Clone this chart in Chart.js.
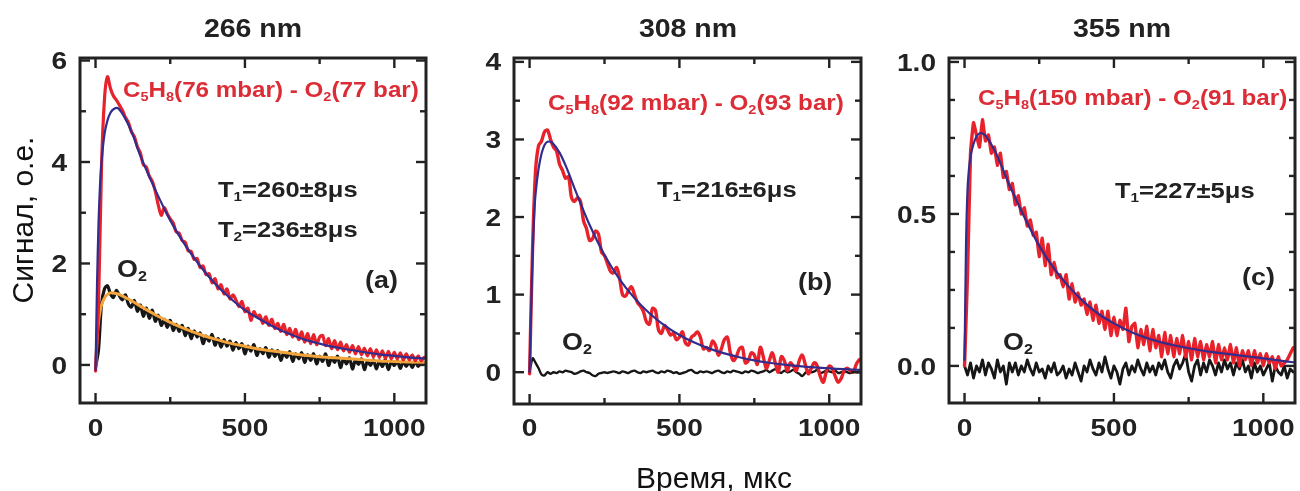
<!DOCTYPE html>
<html>
<head>
<meta charset="utf-8">
<title>Сигнал</title>
<script src="https://cdn.jsdelivr.net/npm/chart.js@4.4.1/dist/chart.umd.min.js"></script>
<style>
  body { margin: 0; background: #fff; }
  #wrap { position: relative; width: 1300px; height: 491px; overflow: hidden; }
  #wrap canvas { position: absolute; top: 0; }
</style>
</head>
<body>
<div id="wrap">
  <canvas id="chartA" width="440" height="491" style="left:0px"></canvas>
  <canvas id="chartB" width="440" height="491" style="left:440px"></canvas>
  <canvas id="chartC" width="420" height="491" style="left:880px"></canvas>
</div>
<script>
// time grid of the measured traces, us
const TIME = [
  0, 10, 20, 30, 40, 50, 60, 70, 80, 90,
  100, 110, 120, 130, 140, 150, 160, 170, 180, 190,
  200, 210, 220, 230, 240, 250, 260, 270, 280, 290,
  300, 310, 320, 330, 340, 350, 360, 370, 380, 390,
  400, 410, 420, 430, 440, 450, 460, 470, 480, 490,
  500, 510, 520, 530, 540, 550, 560, 570, 580, 590,
  600, 610, 620, 630, 640, 650, 660, 670, 680, 690,
  700, 710, 720, 730, 740, 750, 760, 770, 780, 790,
  800, 810, 820, 830, 840, 850, 860, 870, 880, 890,
  900, 910, 920, 930, 940, 950, 960, 970, 980, 990,
  1000, 1010, 1020, 1030, 1040, 1050, 1060, 1070, 1080, 1090,
  1100
];

// time grid of the fitted curves, us
const FIT_TIME = [0, 5, 10, 15, 20, 30, 40, 50, 60, 75, 100, 125, 150, 200, 250, 300, 350,
  400, 450, 500, 550, 600, 650, 700, 750, 800, 850, 900, 950, 1000, 1050, 1100];

// 266 nm
const redA = [
  -0.12, 1.2, 3.9, 5.25, 5.68, 5.45, 5.3, 5.22, 5.12, 5.02,
  4.88, 4.78, 4.6, 4.5, 4.3, 4.18, 3.95, 3.9, 3.72, 3.62,
  3.42, 3.15, 2.95, 3.1, 2.98, 2.88, 2.8, 2.62, 2.6, 2.45,
  2.42, 2.25, 2.24, 2.08, 2.1, 1.92, 1.95, 1.78, 1.8, 1.62,
  1.7, 1.5, 1.58, 1.4, 1.5, 1.3, 1.38, 1.28, 1.15, 1.25,
  1.05, 1.12, 0.88, 1.05, 0.95, 0.98, 0.82, 0.95, 0.78, 0.9,
  0.72, 0.82, 0.66, 0.8, 0.6, 0.72, 0.55, 0.7, 0.5, 0.65,
  0.45, 0.62, 0.42, 0.6, 0.4, 0.55, 0.58, 0.38, 0.52, 0.32,
  0.48, 0.3, 0.45, 0.28, 0.4, 0.25, 0.38, 0.22, 0.36, 0.2,
  0.33, 0.18, 0.32, 0.16, 0.3, 0.15, 0.28, 0.13, 0.27, 0.12,
  0.25, 0.12, 0.24, 0.1, 0.22, 0.1, 0.2, 0.08, 0.18, 0.08,
  0.15
];
const blackA = [
  -0.05, 0.3, 1.2, 1.5, 1.56, 1.4, 1.33, 1.47, 1.36, 1.28,
  1.38, 1.2, 1.14, 1.27, 1.06, 1.18, 0.96, 1.12, 0.92, 1.08,
  0.86, 0.98, 0.78, 0.9, 0.74, 0.88, 0.68, 0.8, 0.66, 0.78,
  0.58, 0.72, 0.52, 0.67, 0.55, 0.63, 0.42, 0.57, 0.47, 0.6,
  0.39, 0.52, 0.35, 0.5, 0.37, 0.47, 0.29, 0.44, 0.32, 0.42,
  0.22, 0.37, 0.27, 0.4, 0.19, 0.32, 0.22, 0.34, 0.15, 0.3,
  0.17, 0.28, 0.09, 0.24, 0.15, 0.26, 0.07, 0.22, 0.12, 0.24,
  0.05, 0.2, 0.09, 0.22, 0.02, 0.17, 0.07, 0.22, -0.01, 0.14,
  0.05, 0.17, -0.05, 0.12, 0.02, 0.14, -0.08, 0.1, 0.01, 0.12,
  -0.09, 0.07, -0.01, 0.1, -0.08, 0.08, -0.03, 0.1, -0.09, 0.06,
  -0.01, 0.08, -0.07, 0.07, -0.03, 0.06, -0.05, 0.07, -0.03, 0.05,
  0.02
];
const fitA = [-0.1, 1.6, 2.8, 3.55, 4.0, 4.55, 4.82, 4.97, 5.04, 5.06, 4.85, 4.53, 4.12, 3.45, 2.85,
  2.36, 1.95, 1.6, 1.32, 1.08, 0.9, 0.74, 0.61, 0.5, 0.42, 0.35, 0.3, 0.25, 0.21, 0.18, 0.15, 0.13];
const fitO2A = [-0.05, 0.5, 0.85, 1.05, 1.18, 1.32, 1.39, 1.42, 1.42, 1.4, 1.33, 1.25, 1.16, 0.99, 0.84,
  0.71, 0.6, 0.51, 0.43, 0.37, 0.31, 0.27, 0.23, 0.19, 0.16, 0.14, 0.12, 0.1, 0.08, 0.07, 0.06, 0.05];

// 308 nm
const redB = [
  -0.02, 1.6, 2.6, 2.92, 2.98, 3.1, 3.12, 3.0, 2.9, 2.85,
  2.68, 2.6, 2.5, 2.52, 2.25, 2.2, 2.25, 2.2, 1.95, 1.85,
  1.7, 1.72, 1.82, 1.78, 1.55, 1.5, 1.4, 1.3, 1.28, 1.35,
  1.22, 1.0, 0.98, 1.05, 1.1, 1.0, 0.9, 0.85, 0.78, 0.65,
  0.62, 0.82, 0.8, 0.55, 0.5, 0.6, 0.55, 0.48, 0.5, 0.42,
  0.45, 0.52, 0.38, 0.35, 0.45, 0.48, 0.52, 0.45, 0.3, 0.32,
  0.28, 0.4, 0.35, 0.22, 0.3, 0.42, 0.45, 0.25, 0.15, 0.2,
  0.3, 0.32, 0.12, 0.15, 0.25, 0.22, 0.1, 0.32, 0.2, 0.05,
  0.15, 0.25, 0.12, 0.0, 0.2, 0.15, 0.02, 0.12, 0.08, 0.02,
  0.15, 0.22, 0.1, -0.02, 0.05, 0.12, 0.08, -0.05, -0.13, 0.0,
  0.08, 0.05, -0.05, -0.13, -0.08, 0.02, 0.05, 0.02, 0.0, 0.1,
  0.16
];
const blackB = [
  0.0, 0.18, 0.12, 0.05, -0.03, -0.04, 0.0, -0.02, 0.0, -0.01,
  0.01, 0.0, 0.02, 0.01, 0.0, -0.02, -0.01, 0.01, 0.02, 0.0,
  -0.01, -0.04, -0.05, -0.02, -0.01, 0.0, -0.01, 0.0, 0.01, 0.0,
  -0.01, 0.01, 0.0, -0.01, 0.01, 0.02, 0.0, -0.01, 0.01, 0.0,
  0.01, 0.02, 0.0, -0.01, 0.01, 0.0, 0.02, 0.01, -0.01, 0.0,
  -0.02, -0.01, 0.0, 0.02, 0.03, 0.0, -0.01, 0.01, 0.0, 0.01,
  0.0, -0.01, 0.01, 0.02, 0.0, -0.01, 0.01, 0.0, 0.02, 0.01,
  0.0, -0.01, 0.01, 0.0, 0.02, 0.01, -0.01, 0.0, 0.01, 0.03,
  0.0, 0.02, 0.04, 0.01, -0.01, 0.02, 0.0, 0.01, 0.03, 0.0,
  -0.02, -0.05, -0.01, 0.02, 0.0, 0.01, 0.03, -0.01, 0.0, 0.02,
  0.01, 0.0, 0.02, -0.01, 0.0, 0.01, 0.0, -0.01, 0.01, 0.0,
  0.0
];
const fitB = [0.0, 0.8, 1.5, 2.0, 2.3, 2.62, 2.82, 2.93, 2.97, 2.96, 2.83, 2.62, 2.37, 1.9, 1.51,
  1.2, 0.955, 0.76, 0.604, 0.48, 0.382, 0.304, 0.242, 0.193, 0.153, 0.122, 0.097, 0.077, 0.061, 0.049, 0.039, 0.031];

// 355 nm
const redC = [
  0.0, 0.3, 0.7, 0.8, 0.76, 0.72, 0.81, 0.74, 0.76, 0.7,
  0.72, 0.66, 0.7, 0.62, 0.64, 0.58, 0.6, 0.53, 0.56, 0.5,
  0.52, 0.46, 0.48, 0.43, 0.44, 0.36, 0.42, 0.33, 0.4, 0.3,
  0.34, 0.29, 0.3, 0.26, 0.3, 0.22, 0.27, 0.21, 0.24, 0.2,
  0.22, 0.17, 0.21, 0.15, 0.2, 0.14, 0.18, 0.12, 0.18, 0.1,
  0.16, 0.1, 0.15, 0.12, 0.19, 0.08, 0.13, 0.14, 0.06, 0.12,
  0.07, 0.13, 0.05, 0.12, 0.06, 0.1, 0.03, 0.11, 0.04, 0.1,
  0.03, 0.09, 0.04, 0.1, 0.03, 0.08, 0.02, 0.09, 0.03, 0.08,
  0.02, 0.07, 0.03, 0.08, 0.01, 0.07, 0.02, 0.06, 0.02, 0.07,
  0.01, 0.06, 0.0, 0.05, 0.02, 0.05, 0.0, 0.05, 0.01, 0.04,
  0.0, 0.04, 0.01, 0.03, -0.01, 0.03, 0.0, 0.01, 0.02, 0.04,
  0.06
];
const blackC = [
  0.0, -0.03, 0.01, -0.04, 0.0, -0.02, 0.02, -0.03, 0.01, -0.01,
  -0.04, 0.02, -0.02, 0.0, -0.06, 0.01, -0.02, 0.01, -0.03, 0.0,
  -0.02, 0.02, -0.01, -0.03, 0.01, -0.02, -0.01, -0.04, 0.0, -0.02,
  0.01, -0.03, -0.02, 0.0, -0.04, -0.01, -0.03, 0.01, -0.02, -0.05,
  0.0, -0.02, 0.02, -0.01, -0.03, 0.01, -0.02, 0.03, -0.01, -0.04,
  0.0, -0.02, -0.06, -0.01, 0.01, -0.03, 0.0, -0.02, 0.02, -0.01,
  -0.03, 0.01, -0.02, 0.0, -0.03, 0.01, -0.01, 0.02, -0.02, -0.04,
  0.0, 0.02, -0.01, 0.01, 0.04, -0.02, -0.05, 0.0, 0.02, -0.03,
  0.01, -0.02, 0.02, 0.0, -0.03, 0.01, -0.02, 0.02, -0.01, 0.01,
  -0.03, 0.01, -0.01, 0.02, -0.02, 0.0, -0.04, 0.01, -0.02, 0.0,
  -0.03, -0.01, 0.01, -0.05, 0.0, -0.02, -0.03, 0.0, -0.04, -0.01,
  -0.02
];
const fitC = [0.02, 0.4, 0.58, 0.65, 0.69, 0.73, 0.755, 0.765, 0.765, 0.752, 0.71, 0.655, 0.595, 0.49, 0.395,
  0.32, 0.26, 0.21, 0.17, 0.14, 0.115, 0.095, 0.08, 0.068, 0.058, 0.05, 0.043, 0.037, 0.031, 0.025, 0.018, 0.012];

// axis ticks
const X_TICKS = [0, 250, 500, 750, 1000];
const X_LABELS = [0, 500, 1000];
const Y_TICKS_A = [0, 1, 2, 3, 4, 5, 6];
const Y_LABELS_A = [0, 2, 4, 6];
const Y_TICKS_B = [0, 0.5, 1, 1.5, 2, 2.5, 3, 3.5, 4];
const Y_LABELS_B = [0, 1, 2, 3, 4];
const Y_TICKS_C = [0, 0.125, 0.25, 0.375, 0.5, 0.625, 0.75, 0.875, 1];
const Y_LABELS_C = [0, 0.5, 1];

const RED = '#e8222b';
const RED_TEXT = '#dc2c35';
const BLUE = '#302d8e';
const BLACK = '#161616';
const ORANGE = '#f3a53c';
const INK = '#222222';
const FONT = '"Liberation Sans", Arial, sans-serif';

function toPoints(xs, ys) {
  return xs.map((x, i) => ({ x: x, y: ys[i] }));
}

// text with one-character subscripts written as _X, stretched horizontally
function drawRich(ctx, str, x, y, size, weight, color, stretch, align) {
  const parts = [];
  for (let i = 0; i < str.length; i++) {
    if (str[i] === '_') { parts.push({ t: str[i + 1], sub: true }); i++; }
    else if (parts.length && !parts[parts.length - 1].sub) parts[parts.length - 1].t += str[i];
    else parts.push({ t: str[i], sub: false });
  }
  let w = 0;
  parts.forEach(p => {
    ctx.font = weight + ' ' + (p.sub ? size * 0.6 : size) + 'px ' + FONT;
    p.w = ctx.measureText(p.t).width;
    w += p.w;
  });
  let x0 = x;
  if (align === 'center') x0 = x - w * stretch / 2;
  if (align === 'right') x0 = x - w * stretch;
  ctx.save();
  ctx.translate(x0, y);
  ctx.scale(stretch, 1);
  ctx.fillStyle = color;
  ctx.textAlign = 'left';
  ctx.textBaseline = 'alphabetic';
  let cx = 0;
  parts.forEach(p => {
    ctx.font = weight + ' ' + (p.sub ? size * 0.6 : size) + 'px ' + FONT;
    ctx.fillText(p.t, cx, p.sub ? size * 0.17 : 0);
    cx += p.w;
  });
  ctx.restore();
}

function tick(ctx, x1, y1, x2, y2) {
  ctx.beginPath();
  ctx.moveTo(x1, y1);
  ctx.lineTo(x2, y2);
  ctx.stroke();
}

// frame, inward ticks, tick labels and annotations of one panel
function makeDecor(p) {
  return {
    id: 'panelDecor',
    afterDraw(chart) {
      const ctx = chart.ctx, a = chart.chartArea;
      const sx = chart.scales.x, sy = chart.scales.y;
      ctx.save();
      ctx.strokeStyle = INK;
      ctx.lineCap = 'butt';
      ctx.lineWidth = 2.4;
      X_TICKS.forEach(v => {
        const px = sx.getPixelForValue(v);
        const len = X_LABELS.includes(v) ? 10 : 6;
        tick(ctx, px, a.bottom, px, a.bottom - len);
        tick(ctx, px, a.top, px, a.top + len);
      });
      p.yTicks.forEach(v => {
        const py = sy.getPixelForValue(v);
        const len = p.yLabels.includes(v) ? 10 : 6;
        tick(ctx, a.left, py, a.left + len, py);
        tick(ctx, a.right, py, a.right - len, py);
      });
      ctx.lineWidth = 3;
      ctx.strokeRect(a.left, a.top, a.right - a.left, a.bottom - a.top);
      ctx.restore();

      X_LABELS.forEach(v => {
        drawRich(ctx, String(v), sx.getPixelForValue(v), 436, 24, 'bold', INK, 1.17, 'center');
      });
      p.yLabels.forEach(v => {
        const txt = p.yDigits ? v.toFixed(p.yDigits) : String(v);
        drawRich(ctx, txt, a.left - 13, sy.getPixelForValue(v) + 8.6, 24, 'bold', INK, 1.17, 'right');
      });

      const o = p.offset;
      drawRich(ctx, p.title, p.titleX - o, 37, 25, 'bold', INK, 1.14, 'center');
      drawRich(ctx, p.mix[0], p.mix[1] - o, p.mix[2], 22, 'bold', RED_TEXT, 1.1, 'left');
      p.notes.forEach(n => drawRich(ctx, n[0], n[1] - o, n[2], 22, 'bold', INK, 1.16, 'left'));
      drawRich(ctx, p.tag[0], p.tag[1] - o, p.tag[2], 24, 'bold', INK, 1.12, 'left');
      drawRich(ctx, 'O_2', p.o2[0] - o, p.o2[1], 24, 'bold', INK, 1.12, 'left');

      if (p.extra) p.extra(ctx);
    }
  };
}

function line(data, color, width, tension) {
  return {
    data: data,
    borderColor: color,
    borderWidth: width,
    pointRadius: 0,
    tension: tension,
    borderJoinStyle: 'round',
    borderCapStyle: 'round',
    fill: false
  };
}

function makeChart(id, p, datasets) {
  return new Chart(document.getElementById(id), {
    type: 'line',
    data: { datasets: datasets },
    options: {
      responsive: false,
      animation: false,
      events: [],
      layout: { padding: { top: 58, right: p.padRight, left: 0, bottom: 0 } },
      plugins: { legend: { display: false }, tooltip: { enabled: false } },
      scales: {
        x: {
          type: 'linear', min: -52, max: 1106,
          grid: { display: false }, border: { display: false },
          ticks: { display: false },
          afterFit: s => { s.height = 491 - p.bottom; }
        },
        y: {
          type: 'linear', min: p.yMin, max: p.yMax,
          grid: { display: false }, border: { display: false },
          ticks: { display: false },
          afterFit: s => { s.width = p.left; }
        }
      }
    },
    plugins: [makeDecor(p)]
  });
}

// first dataset in each list is drawn on top
makeChart('chartA', {
  offset: 0, left: 80, padRight: 14, bottom: 403,
  yMin: -0.75, yMax: 6.05, yTicks: Y_TICKS_A, yLabels: Y_LABELS_A, yDigits: 0,
  title: '266 nm', titleX: 253,
  mix: ['C_5H_8(76 mbar) - O_2(77 bar)', 123, 97],
  notes: [['T_1=260±8μs', 218, 197], ['T_2=236±8μs', 218, 237]],
  tag: ['(a)', 365, 288], o2: [117, 277],
  extra: ctx => {
    ctx.save();
    ctx.translate(33, 220);
    ctx.rotate(-Math.PI / 2);
    ctx.font = '30px ' + FONT;
    ctx.fillStyle = '#111';
    ctx.textAlign = 'center';
    ctx.fillText('Сигнал, о.е.', 0, 0);
    ctx.restore();
  }
}, [
  line(toPoints(FIT_TIME, fitA), BLUE, 2.2, 0.3),
  line(toPoints(TIME, redA), RED, 3.2, 0.3),
  line(toPoints(FIT_TIME, fitO2A), ORANGE, 3, 0.3),
  line(toPoints(TIME, blackA), BLACK, 3.2, 0.3)
]);

makeChart('chartB', {
  offset: 440, left: 74, padRight: 19, bottom: 404,
  yMin: -0.41, yMax: 4.05, yTicks: Y_TICKS_B, yLabels: Y_LABELS_B, yDigits: 0,
  title: '308 nm', titleX: 688,
  mix: ['C_5H_8(92 mbar) - O_2(93 bar)', 548, 110],
  notes: [['T_1=216±6μs', 657, 197]],
  tag: ['(b)', 798, 290], o2: [562, 350],
  extra: ctx => {
    ctx.save();
    ctx.font = '30px ' + FONT;
    ctx.fillStyle = '#111';
    ctx.textAlign = 'center';
    ctx.fillText('Время, мкс', 714 - 440, 488);
    ctx.restore();
  }
}, [
  line(toPoints(FIT_TIME, fitB), BLUE, 2.2, 0.3),
  line(toPoints(TIME, redB), RED, 3.4, 0.35),
  line(toPoints(TIME, blackB), BLACK, 2.4, 0.3)
]);

makeChart('chartC', {
  offset: 880, left: 69, padRight: 5, bottom: 403,
  yMin: -0.122, yMax: 1.013, yTicks: Y_TICKS_C, yLabels: Y_LABELS_C, yDigits: 1,
  title: '355 nm', titleX: 1122,
  mix: ['C_5H_8(150 mbar) - O_2(91 bar)', 978, 105],
  notes: [['T_1=227±5μs', 1115, 198]],
  tag: ['(c)', 1242, 285], o2: [1003, 350]
}, [
  line(toPoints(FIT_TIME, fitC), BLUE, 2.2, 0.3),
  line(toPoints(TIME, redC), RED, 3.4, 0.1),
  line(toPoints(TIME, blackC), BLACK, 2.8, 0)
]);
</script>
</body>
</html>
